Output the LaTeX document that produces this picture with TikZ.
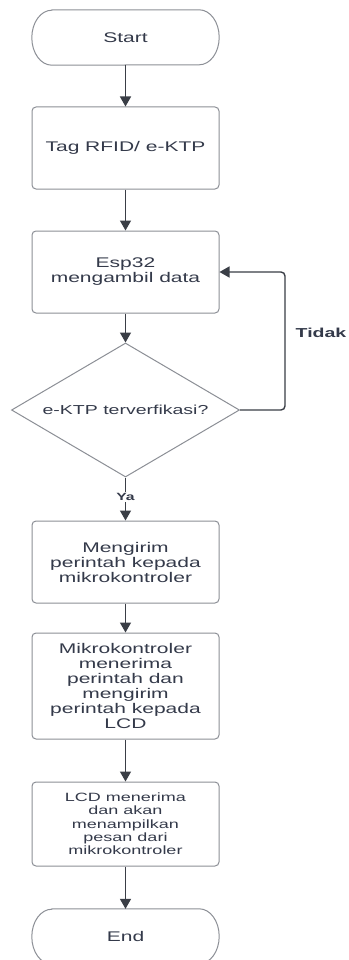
\documentclass[tikz,border=0pt]{standalone}
\usepackage{fontspec}
\setmainfont{Liberation Sans}[FakeStretch=1.5]
\usetikzlibrary{arrows.meta,shapes.geometric}
\definecolor{txt}{RGB}{52,58,74}
\definecolor{brd}{RGB}{140,143,150}
\definecolor{arr}{RGB}{58,62,70}
\begin{document}
\begin{tikzpicture}[x=1pt,y=-1pt,
  proc/.style={rectangle, draw=brd, line width=1pt, rounded corners=4pt,
    minimum width=187pt, align=center, text=txt, inner sep=0pt,
    font=\fontsize{14}{15}\selectfont},
  term/.style={rectangle, minimum width=187pt, minimum height=55pt,
    text=txt, inner sep=0pt, font=\fontsize{14}{15}\selectfont},
  dec/.style={diamond, draw=brd, line width=1pt, minimum width=228pt,
    minimum height=134pt, aspect=1.7, inner sep=0pt, text=txt,
    font=\fontsize{13}{15}\selectfont},
  flow/.style={draw=arr, line width=1.4pt, -{Triangle[width=11pt,length=10pt]}},
  lbl/.style={text=txt, font=\bfseries\fontsize{13}{15}\selectfont, inner sep=1pt}
]
\useasboundingbox (0,0) rectangle (348,960);
\clip (0,0) rectangle (348,960);
\fill[white] (0,0) rectangle (348,960);

\node[term] (start) at (125.5,37.5) {Start};
\node[proc, minimum height=82pt] (tag) at (125.5,148) {Tag RFID/ e-KTP};
\node[proc, minimum height=82pt] (esp) at (125.5,272) {Esp32\\mengambil data};
\node[dec] (cek) at (125.5,410) {e-KTP terverfikasi?};
\node[proc, minimum height=82pt] (kirim) at (125.5,562) {Mengirim\\perintah kepada\\mikrokontroler};
\node[proc, minimum height=106pt] (mikro) at (125.5,686) {Mikrokontroler\\menerima\\perintah dan\\mengirim\\perintah kepada\\LCD};
\node[proc, minimum height=84pt, font=\fontsize{12}{13.3}\selectfont] (lcd) at (125.5,824) {LCD menerima\\dan akan\\menampilkan\\pesan dari\\mikrokontroler};
\node[term] (end) at (125.5,936.5) {End};

\foreach \n in {start,end}{
  \draw[brd, line width=1pt]
    ([xshift=20pt]\n.north west) -- ([xshift=-20pt]\n.north east)
    arc[start angle=90, end angle=-90, x radius=20pt, y radius=27.5pt]
    -- ([xshift=20pt]\n.south west)
    arc[start angle=270, end angle=90, x radius=20pt, y radius=27.5pt] -- cycle;
}

\coordinate (c1) at (285,410);
\coordinate (c2) at (285,272);

\draw[flow] (start) -- (tag);
\draw[flow] (tag) -- (esp);
\draw[flow] (esp) -- (cek);
\draw[flow] (cek.south) -- (kirim.north)
  node[pos=0.45, fill=white, lbl, font=\bfseries\fontsize{10.5}{12}\selectfont] (ya) {Ya};
\draw[flow, rounded corners=4pt] (cek.east) -- (c1) -- (c2) -- (esp.east);
\node[lbl] (tidak) at (321,333) {Tidak};
\draw[flow] (kirim) -- (mikro);
\draw[flow] (mikro) -- (lcd);
\draw[flow] (lcd) -- (end);
\end{tikzpicture}
\end{document}
